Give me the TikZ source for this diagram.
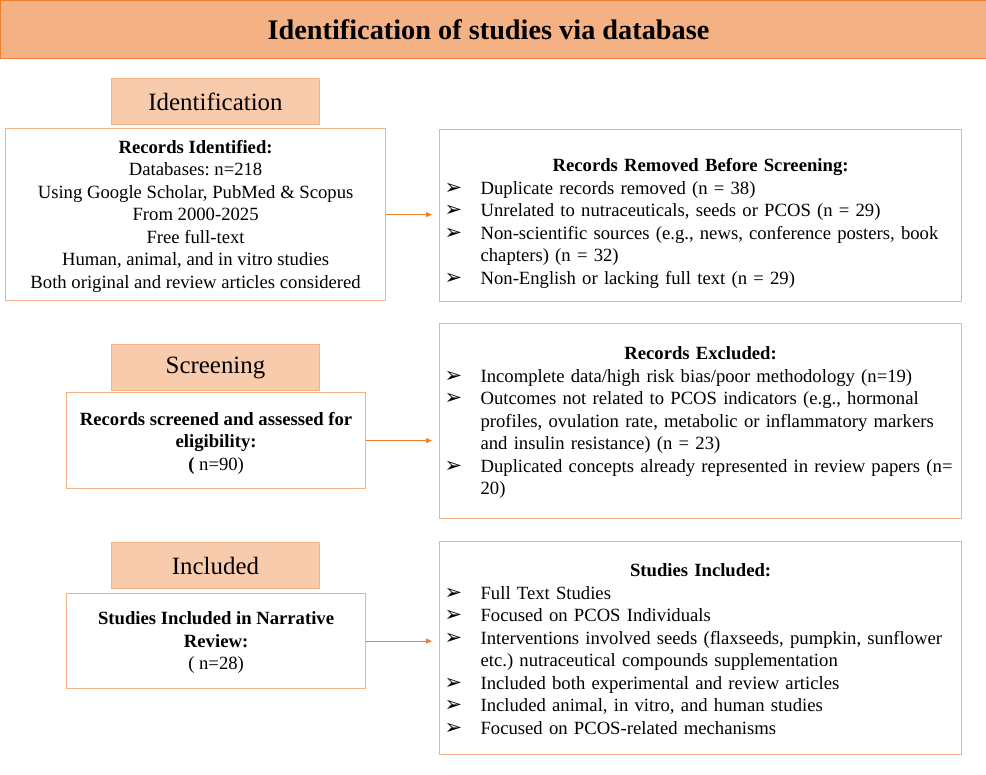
\documentclass[tikz,border=0pt]{standalone}
\usepackage{fontspec}
\setmainfont{Liberation Serif}
\newfontfamily\arrowfont{DejaVu Sans}
\usetikzlibrary{arrows.meta}
\frenchspacing

\definecolor{barfill}{HTML}{F4B183}
\definecolor{barline}{HTML}{ED7D31}
\definecolor{tagfill}{HTML}{F8CBAD}
\definecolor{boxline}{HTML}{F4B183}

\newcommand{\pnt}{{\arrowfont\fontsize{21}{21}\selectfont ➢}}
\newcommand{\itm}[1]{\par\noindent\hangindent=33pt\hangafter=1\makebox[33pt][l]{\hspace{-3pt}\pnt}#1}
% heading line, #1 = height of its strut
\newcommand{\hdr}[2]{{\centering\noindent\rule{0pt}{#1}\textbf{#2}\par}}

\begin{document}
\begin{tikzpicture}[x=1pt,y=-1pt]

\tikzstyle{bar}=[draw=barline,fill=barfill,line width=1pt,minimum width=986pt,minimum height=58pt,anchor=north west,inner sep=0pt,font=\fontsize{28.3}{32}\selectfont\bfseries]
\tikzstyle{tag}=[draw=boxline,fill=tagfill,line width=1pt,minimum width=208pt,minimum height=46pt,anchor=north west,inner sep=0pt,font=\fontsize{24.9}{28}\selectfont]
\tikzstyle{lbox}=[draw=boxline,line width=1.2pt,anchor=north west,inner sep=0pt,align=center,font=\fontsize{18.67}{22.5}\selectfont]
\tikzstyle{rbox}=[draw=boxline,line width=1.2pt,anchor=north west,minimum width=522pt,inner xsep=8pt,inner ysep=0pt,text width=506pt,align=left,font=\fontsize{18.67}{22.5}\selectfont]
\tikzstyle{arr}=[draw=barline,line width=1.2pt,-{Triangle[length=6pt,width=5pt]},shorten >=7pt]

\useasboundingbox (0,0) rectangle (986,775);

% title bar
\node[bar] (title) at (0,0) {Identification of studies via database\hspace*{10pt}};

% phase tags
\node[tag] (tid) at (111,78) {Identification};
\node[tag] (tsc) at (111,344) {Screening};
\node[tag] (tin) at (111,542) {Included};

% left column
\node[lbox,minimum width=380pt,minimum height=172pt] (recid) at (5,128)
  {\rule{0pt}{16.7pt}\textbf{Records Identified:}\\ Databases: n=218\\ Using Google Scholar, PubMed \& Scopus\\
   From 2000-2025\\ Free full-text\\ Human, animal, and in vitro studies\\
   Both original and review articles considered};
\node[lbox,minimum width=299pt,minimum height=96pt] (recsc) at (66,392)
  {\rule{0pt}{18.7pt}\textbf{Records screened and assessed for}\\ \textbf{eligibility:}\\ \textbf{(} n=90)};
\node[lbox,minimum width=299pt,minimum height=95pt] (studin) at (66,593)
  {\rule{0pt}{16.7pt}\textbf{Studies Included in Narrative}\\ \textbf{Review:}\\ ( n=28)};

% right column
\node[rbox,minimum height=172pt] (remov) at (439,129) {%
  \hdr{28.7pt}{Records Removed Before Screening:}
  \itm{Duplicate records removed (n = 38)}
  \itm{Unrelated to nutraceuticals, seeds or PCOS (n = 29)}
  \itm{Non-scientific sources (e.g., news, conference posters, book\newline chapters) (n = 32)}
  \itm{Non-English or lacking full text (n = 29)}\par};
\node[rbox,minimum height=195pt] (excl) at (439,323) {%
  \hdr{16.7pt}{Records Excluded:}
  \itm{Incomplete data/high risk bias/poor methodology (n=19)}
  \itm{Outcomes not related to PCOS indicators (e.g., hormonal\newline profiles, ovulation rate, metabolic or inflammatory markers\newline and insulin resistance) (n = 23)}
  \itm{Duplicated concepts already represented in review papers (n=\newline 20)}\par};
\node[rbox,minimum height=213pt] (incl) at (439,541) {%
  \hdr{14.7pt}{Studies Included:}
  \itm{Full Text Studies}
  \itm{Focused on PCOS Individuals}
  \itm{Interventions involved seeds (flaxseeds, pumpkin, sunflower\newline etc.) nutraceutical compounds supplementation}
  \itm{Included both experimental and review articles}
  \itm{Included animal, in vitro, and human studies}
  \itm{Focused on PCOS-related mechanisms}\par};

% connectors
\draw[arr] (recid.east) -- (recid.east -| remov.west);
\draw[arr] (recsc.east) -- (recsc.east -| excl.west);
\draw[arr] (studin.east) -- (studin.east -| incl.west);

\end{tikzpicture}
\end{document}
